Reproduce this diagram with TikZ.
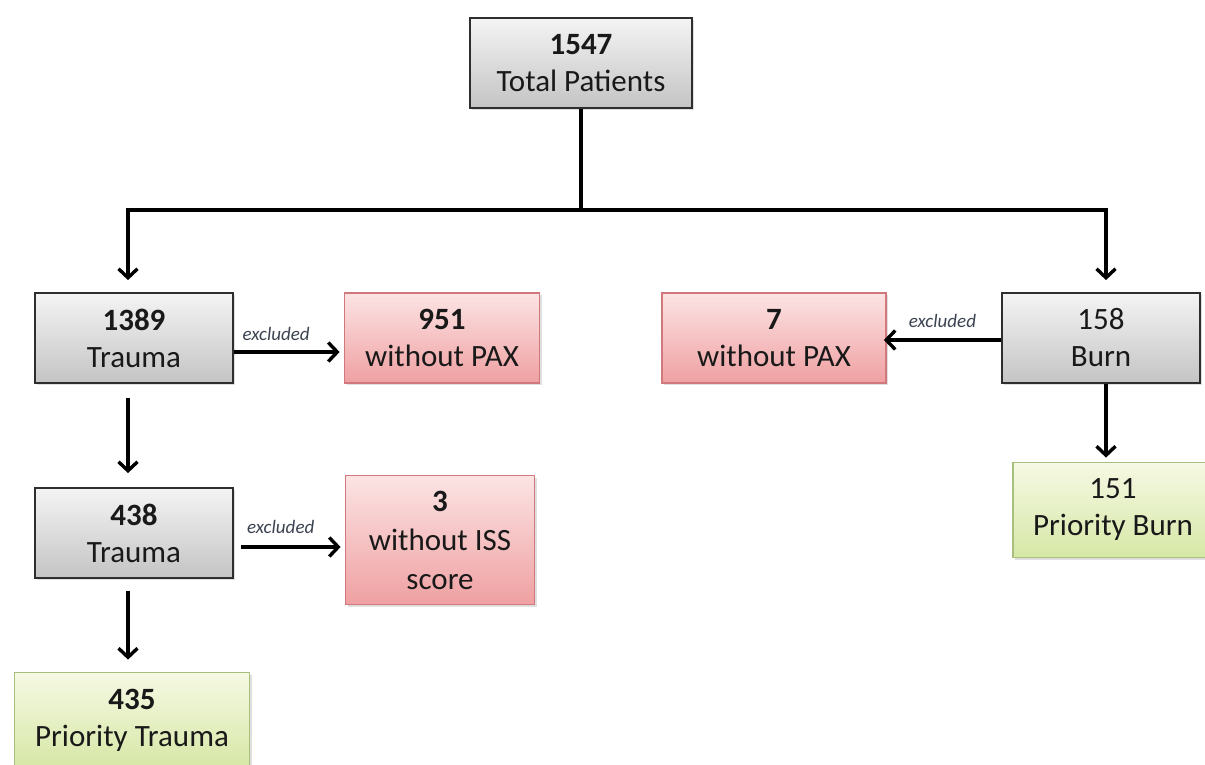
\documentclass[tikz,border=0pt]{standalone}
\usepackage{fontspec}
\setmainfont{Carlito}
\usetikzlibrary{arrows.meta,shadows}

\definecolor{greytop}{HTML}{F4F4F4}
\definecolor{greybot}{HTML}{C4C4C4}
\definecolor{pinktop}{HTML}{FCE4E4}
\definecolor{pinkbot}{HTML}{EFA0A2}
\definecolor{pinkline}{HTML}{D0787C}
\definecolor{greentop}{HTML}{F6F9E4}
\definecolor{greenbot}{HTML}{D6E7A6}
\definecolor{greenline}{HTML}{A9C07C}
\definecolor{notecol}{HTML}{3C4452}

\begin{document}
\begin{tikzpicture}[x=1pt,y=-1pt,
  box/.style={rectangle, line width=1.8pt, align=center, inner sep=0pt,
    font=\fontsize{31}{37}\selectfont, text=black!90,
    drop shadow={opacity=0.25, shadow xshift=2pt, shadow yshift=-2pt}},
  greybox/.style={box, draw=black!82, top color=greytop, bottom color=greybot},
  pinkbox/.style={box, draw=pinkline, top color=pinktop, bottom color=pinkbot},
  greenbox/.style={box, draw=greenline, top color=greentop, bottom color=greenbot},
  link/.style={line width=3.4pt, -{Straight Barb[length=9pt,width=19pt,line width=3.4pt]}},
  trunk/.style={line width=3.4pt},
  note/.style={font=\fontsize{19}{21}\selectfont\itshape, text=notecol}]

\useasboundingbox (0,0) rectangle (1205,765);
\clip (0,0) rectangle (1205,765);
\fill[white] (0,0) rectangle (1205,765);

% boxes
\node[greybox, minimum width=222pt, minimum height=90pt] (total) at (581,63)
  {\textbf{1547}\\Total Patients};
\node[greybox, minimum width=198pt, minimum height=90pt] (trauma1) at (134,338)
  {\textbf{1389}\\Trauma};
\node[pinkbox, minimum width=195pt, minimum height=90pt] (excl1) at (442,338)
  {\textbf{951}\\without PAX};
\node[pinkbox, minimum width=224pt, minimum height=90pt] (excl2) at (774,338)
  {\textbf{7}\\without PAX};
\node[greybox, minimum width=198pt, minimum height=90pt] (burn) at (1101,338)
  {158\\Burn};
\node[greybox, minimum width=198pt, minimum height=90pt] (trauma2) at (134,533)
  {\textbf{438}\\Trauma};
\node[pinkbox, minimum width=189pt, minimum height=129pt, font=\fontsize{31}{39}\selectfont]
  (excl3) at (440,540) {\textbf{3}\\without ISS\\score};
\node[greenbox, minimum width=200pt, minimum height=95pt] (pburn) at (1113,510)
  {151\\Priority Burn};
\node[greenbox, minimum width=235pt, minimum height=95pt] (ptrauma) at (132,720)
  {\textbf{435}\\Priority Trauma};

% split below the total
\coordinate (split) at (total.south |- 0,210);
\coordinate (lsplit) at (128,210);
\coordinate (rsplit) at (1106,210);
\draw[trunk] (total.south) -- (split);
\draw[trunk, line cap=rect] (lsplit) -- (rsplit);
\draw[link] (lsplit) -- ([yshift=12pt]lsplit |- trauma1.north);
\draw[link] (rsplit) -- ([yshift=12pt]rsplit |- burn.north);

% exclusions
\draw[link] (trauma1.east |- 0,352) -- ([xshift=-4pt]excl1.west |- 0,352)
  node[note, pos=0.4, above=6pt] {excluded};
\draw[link] (burn.west |- 0,340) -- ([xshift=-3pt]excl2.east |- 0,340)
  node[note, pos=0.5, above=7pt] {excluded};
\draw[link] ([xshift=7pt]trauma2.east |- 0,547) -- ([xshift=-4pt]excl3.west |- 0,547)
  node[note, pos=0.4, above=8pt] {excluded};

% downward steps
\draw[link] ([yshift=-14pt]lsplit |- trauma1.south) -- ([yshift=14pt]lsplit |- trauma2.north);
\draw[link] ([yshift=-12pt]lsplit |- trauma2.south) -- ([yshift=12pt]lsplit |- ptrauma.north);
\draw[link] (rsplit |- burn.south) -- ([yshift=4pt]rsplit |- pburn.north);

\end{tikzpicture}
\end{document}
